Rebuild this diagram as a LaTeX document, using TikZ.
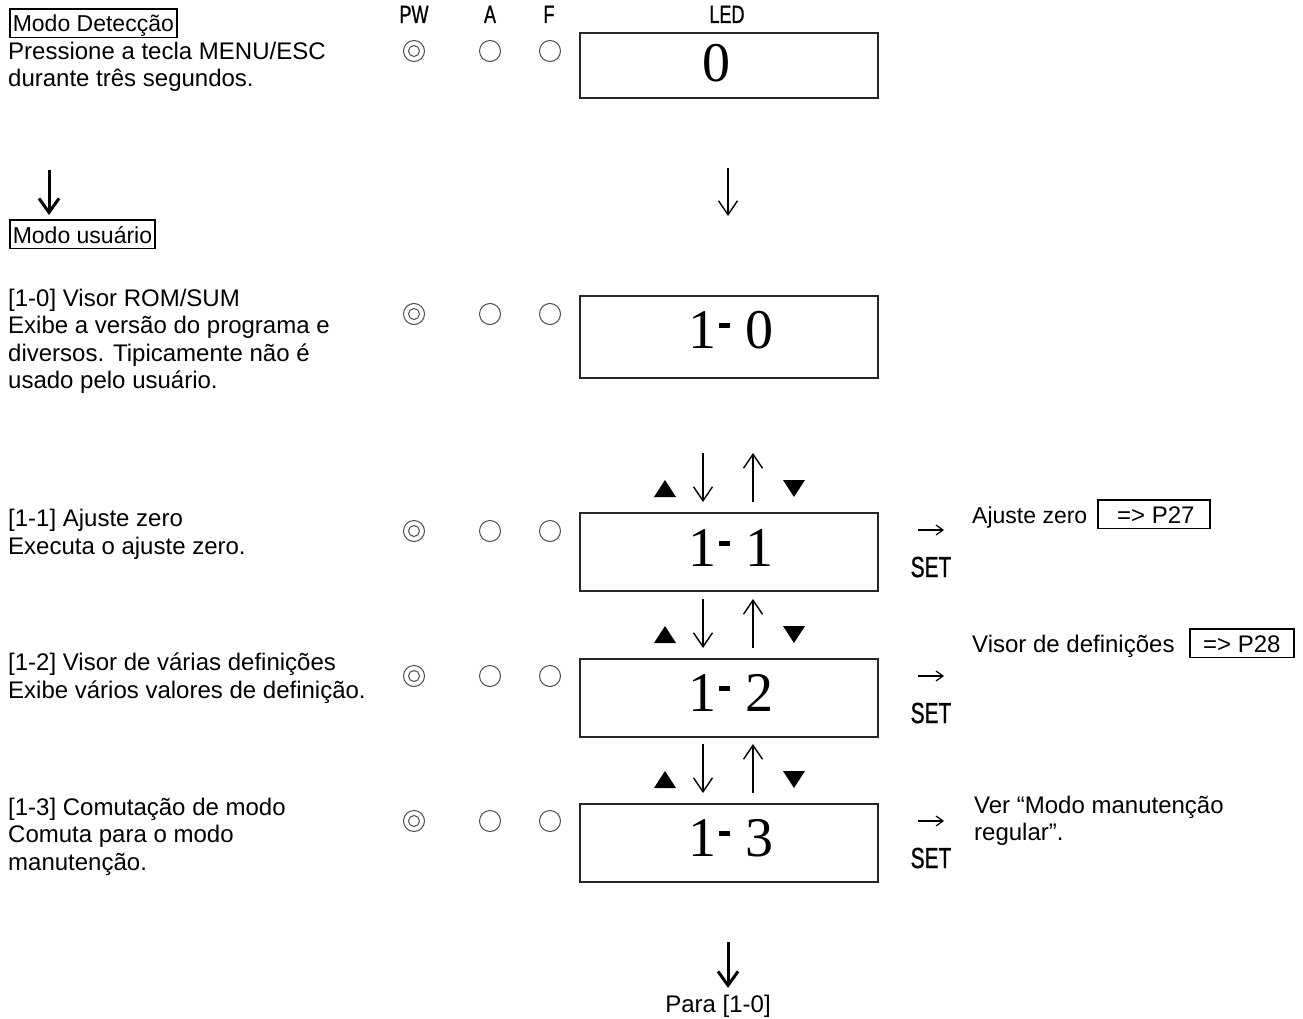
\documentclass[tikz,border=0pt]{standalone}
\usepackage{fontspec}
\setmainfont{Liberation Sans}
\newfontfamily\digitfont{Liberation Serif}
\newfontfamily\narrowfont[FakeStretch=0.72,FakeBold=0.8]{Liberation Sans}
\usetikzlibrary{arrows.meta,shapes.geometric}
\newcommand\mydash{\hspace{3pt}\rule[20pt]{11pt}{5pt}\hspace{15pt}}
\begin{document}
\begin{tikzpicture}[x=1pt,y=-1pt,
  txt/.style={inner sep=0pt, anchor=base west, font=\fontsize{24}{28}\selectfont},
  boxtxt/.style={draw, line width=1.6pt, inner xsep=3pt, inner ysep=2pt, text height=21pt, text depth=3.5pt, anchor=base west, font=\fontsize{23}{28}\selectfont},
  hdr/.style={inner sep=0pt, anchor=base, font=\narrowfont\fontsize{25}{28}\selectfont},
  setlbl/.style={inner sep=0pt, anchor=base, font=\narrowfont\fontsize{29}{30}\selectfont},
  disp/.style={draw=black!85, line width=1.8pt, minimum width=298pt, anchor=north west, inner sep=0pt},
  digits/.style={inner sep=0pt, anchor=base, font=\digitfont\fontsize{56}{60}\selectfont},
  led/.style={circle, draw=black!70, line width=1pt, minimum size=21pt, inner sep=0pt},
  ledin/.style={circle, draw=black!70, line width=1pt, minimum size=11pt, inner sep=0pt},
  thinarr/.style={line width=1.4pt, -{Straight Barb[length=14pt,width=19pt]}},
  smallarr/.style={line width=1.2pt, -{Straight Barb[length=7pt,width=10pt]}},
  thickarr/.style={line width=3pt, -{Straight Barb[length=14pt,width=20pt]}},
]
\useasboundingbox (0,0) rectangle (1303,1019);

% header labels
\node[hdr] (hPW) at (414,23) {PW};
\node[hdr] (hA) at (490,23) {A};
\node[hdr] (hF) at (549,23) {F};
\node[hdr] (hLED) at (727,23) {LED};

% display rows
\foreach \nm/\tp/\hh/\cy/\bl/\dx/\txt in {
  led/32/65/51/82/716.5/0,
  r10/295/82/314/348/730.5/{1\mydash 0},
  r11/512/78/531/566/730.5/{1\mydash 1},
  r12/658/78/676/711/730.5/{1\mydash 2},
  r13/803/78/821/856/730.5/{1\mydash 3}}{
  \node[disp, minimum height=\hh pt] (box\nm) at (579,\tp) {};
  \node[led] (pw\nm) at (414,\cy) {};
  \node[ledin] (pwi\nm) at (414,\cy) {};
  \node[led] (a\nm) at (490,\cy) {};
  \node[led] (f\nm) at (550,\cy) {};
  \node[digits] (d\nm) at (\dx,\bl) {\txt};
}

% SET arrows
\foreach \nm/\tp in {r11/512, r12/658, r13/803}{
  \coordinate (sa\nm) at (918,\tp+18);
  \coordinate (sb\nm) at (944,\tp+18);
  \draw[smallarr] (sa\nm) -- (sb\nm);
  \node[setlbl] (set\nm) at (931,\tp+65) {SET};
}

% up/down groups
\foreach \g/\T in {g1/512, g2/658, g3/803}{
  \coordinate (dns\g) at (703,\T-59);
  \coordinate (dne\g) at (703,\T-10);
  \draw[thinarr] (dns\g) -- (dne\g);
  \coordinate (ups\g) at (753,\T-10);
  \coordinate (upe\g) at (753,\T-59);
  \draw[thinarr] (ups\g) -- (upe\g);
  \fill (654,\T-15) -- (676,\T-15) -- (665,\T-32) -- cycle;
  \fill (783,\T-32) -- (805,\T-32) -- (794,\T-15) -- cycle;
}

% top middle arrow
\coordinate (tma) at (728,168);
\coordinate (tmb) at (728,216);
\draw[thinarr] (tma) -- (tmb);

% left column
\node[boxtxt] (mdet) at (9,32) {Modo Detecção};
\node[txt] (l1) at (8,60) {Pressione a tecla MENU/ESC};
\node[txt] (l2) at (8,87) {durante três segundos.};
\coordinate (la) at (49,170);
\coordinate (lb) at (49,215);
\draw[thickarr] (la) -- (lb);
\node[boxtxt] (muser) at (9,243) {Modo usuário};

\node[txt] (t10a) at (8,306) {[1-0] Visor ROM/SUM};
\node[txt] (t10b) at (8,333.5) {Exibe a versão do programa e};
\node[txt] (t10c) at (8,361) {diversos. Tipicamente não é};
\node[txt] (t10d) at (8,388.5) {usado pelo usuário.};

\node[txt] (t11a) at (8,526) {[1-1] Ajuste zero};
\node[txt] (t11b) at (8,554) {Executa o ajuste zero.};

\node[txt] (t12a) at (8,670) {[1-2] Visor de várias definições};
\node[txt] (t12b) at (8,698) {Exibe vários valores de definição.};

\node[txt] (t13a) at (8,815) {[1-3] Comutação de modo};
\node[txt] (t13b) at (8,842.5) {Comuta para o modo};
\node[txt] (t13c) at (8,870) {manutenção.};

% right column
\node[txt, font=\fontsize{23}{28}\selectfont] (aj) at (972,523) {Ajuste zero};
\node[boxtxt, minimum width=112pt, font=\fontsize{24}{28}\selectfont] (p27) at (1097,523) {\hspace*{4pt}=> P27};
\node[txt] (vd) at (972,652) {Visor de definições};
\node[boxtxt, minimum width=104pt, font=\fontsize{24}{28}\selectfont] (p28) at (1189,652) {=> P28};
\node[txt] (ver1) at (974,813) {Ver “Modo manutenção};
\node[txt] (ver2) at (974,840) {regular”.};

% bottom
\coordinate (ba) at (728,942);
\coordinate (bb) at (728,988);
\draw[thickarr] (ba) -- (bb);
\node[inner sep=0pt, anchor=base, font=\fontsize{24}{28}\selectfont] (para) at (718,1012) {Para [1-0]};
\end{tikzpicture}
\end{document}
